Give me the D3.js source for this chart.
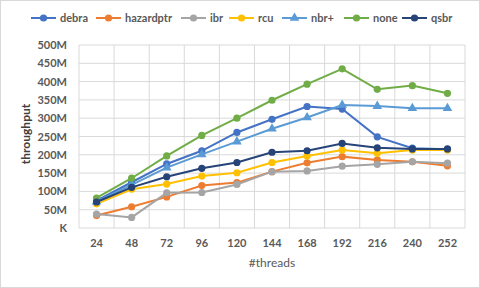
<!DOCTYPE html>
<html>
<head>
<meta charset="utf-8">
<script src="https://cdn.jsdelivr.net/npm/d3@7"></script>
<style>
  body { margin: 0; background: #fff; }
  svg { display: block; font-family: Lato, "Open Sans", sans-serif; }
</style>
</head>
<body>
<svg width="480" height="288"></svg>
<script>
const threads = ['24', '48', '72', '96', '120', '144', '168', '192', '216', '240', '252'];
const yTicks = [0, 50, 100, 150, 200, 250, 300, 350, 400, 450, 500];

// values in millions
const debra = [75, 125, 175, 211, 261, 297, 332, 325, 249, 218, 215];
const hazardptr = [34, 58, 85, 116, 124, 154, 178, 195, 186, 181, 170];
const ibr = [38, 29, 96, 97, 119, 154, 156, 169, 174, 181, 177];
const rcu = [66, 106, 120, 142, 151, 179, 197, 213, 204, 213, 213];
const nbrPlus = [72, 118, 165, 201, 236, 271, 302, 336, 333, 327, 327];
const none = [82, 136, 197, 253, 300, 349, 393, 435, 379, 389, 368];
const qsbr = [71, 111, 140, 163, 179, 207, 211, 231, 219, 216, 216];

const series = [
  { name: 'debra', values: debra, color: '#4472c4', shape: 'circle' },
  { name: 'hazardptr', values: hazardptr, color: '#ed7d31', shape: 'circle' },
  { name: 'ibr', values: ibr, color: '#a5a5a5', shape: 'circle' },
  { name: 'rcu', values: rcu, color: '#ffc000', shape: 'circle' },
  { name: 'nbr+', values: nbrPlus, color: '#5b9bd5', shape: 'triangle' },
  { name: 'none', values: none, color: '#70ad47', shape: 'circle' },
  { name: 'qsbr', values: qsbr, color: '#264478', shape: 'circle' }
];

const svg = d3.select('svg');
const plotLeft = 79, plotRight = 465, plotTop = 45, plotBottom = 228;

svg.append('rect')
  .attr('x', 0.5).attr('y', 0.5)
  .attr('width', 479).attr('height', 287)
  .attr('fill', '#fff').attr('stroke', '#d9d9d9');

const x = d3.scaleBand().domain(threads).range([plotLeft, plotRight]);
const y = d3.scaleLinear().domain([0, 500]).range([plotBottom, plotTop]);

// horizontal grid
svg.append('g')
  .selectAll('line')
  .data(yTicks)
  .join('line')
  .attr('x1', plotLeft).attr('x2', plotRight)
  .attr('y1', (d) => y(d)).attr('y2', (d) => y(d))
  .attr('stroke', '#d9d9d9').attr('stroke-width', 1);

// vertical grid at band edges
const edges = threads.map((t) => x(t)).concat([plotRight]);
svg.append('g')
  .selectAll('line')
  .data(edges)
  .join('line')
  .attr('x1', (d) => d).attr('x2', (d) => d)
  .attr('y1', plotTop).attr('y2', plotBottom)
  .attr('stroke', '#d9d9d9').attr('stroke-width', 1);

// y axis labels
svg.append('g')
  .selectAll('text')
  .data(yTicks)
  .join('text')
  .attr('x', 67).attr('y', (d) => y(d) + 4)
  .attr('text-anchor', 'end')
  .attr('font-size', 11).attr('font-weight', 'bold').attr('fill', '#595959')
  .text((d) => d === 0 ? 'K' : d + 'M');

// x axis labels
svg.append('g')
  .selectAll('text')
  .data(threads)
  .join('text')
  .attr('x', (d) => x(d) + x.bandwidth() / 2).attr('y', 247)
  .attr('text-anchor', 'middle')
  .attr('font-size', 11).attr('font-weight', 'bold').attr('fill', '#595959')
  .text((d) => d);

svg.append('text')
  .attr('x', 272).attr('y', 267)
  .attr('text-anchor', 'middle')
  .attr('font-size', 12).attr('fill', '#595959')
  .text('#threads');

svg.append('text')
  .attr('transform', 'translate(30,134) rotate(-90)')
  .attr('text-anchor', 'middle')
  .attr('font-size', 12).attr('font-weight', 'bold').attr('fill', '#404040')
  .text('throughput');

const line = d3.line()
  .x((d, i) => x(threads[i]) + x.bandwidth() / 2)
  .y((d) => y(d));

const tri = d3.symbol().type(d3.symbolTriangle).size(40);

series.forEach((s) => {
  const g = svg.append('g');
  g.append('path')
    .attr('d', line(s.values))
    .attr('stroke', s.color)
    .attr('stroke-width', 2)
    .attr('fill', 'none');
  const pts = g.selectAll('.pt')
    .data(s.values)
    .join(s.shape === 'triangle' ? 'path' : 'circle');
  if (s.shape === 'triangle') {
    pts.attr('d', tri)
      .attr('transform', (d, i) => `translate(${x(threads[i]) + x.bandwidth() / 2},${y(d)})`)
      .attr('fill', s.color);
  } else {
    pts.attr('cx', (d, i) => x(threads[i]) + x.bandwidth() / 2)
      .attr('cy', (d) => y(d))
      .attr('r', 3.6)
      .attr('fill', s.color);
  }
});

// legend
const legendX = [31, 96, 181, 229, 282, 344, 402];
const legend = svg.append('g')
  .selectAll('g')
  .data(series)
  .join('g')
  .attr('transform', (d, i) => `translate(${legendX[i]},18)`);

legend.append('line')
  .attr('x1', 0).attr('x2', 25)
  .attr('stroke', (d) => d.color).attr('stroke-width', 2);

legend.each(function (d) {
  const g = d3.select(this);
  if (d.shape === 'triangle') {
    g.append('path').attr('d', tri).attr('transform', 'translate(12.5,0)').attr('fill', d.color);
  } else {
    g.append('circle').attr('cx', 12.5).attr('r', 3.6).attr('fill', d.color);
  }
});

legend.append('text')
  .attr('x', 29).attr('y', 4)
  .attr('font-size', 11).attr('font-weight', 'bold').attr('fill', '#595959')
  .text((d) => d.name);
</script>
</body>
</html>
